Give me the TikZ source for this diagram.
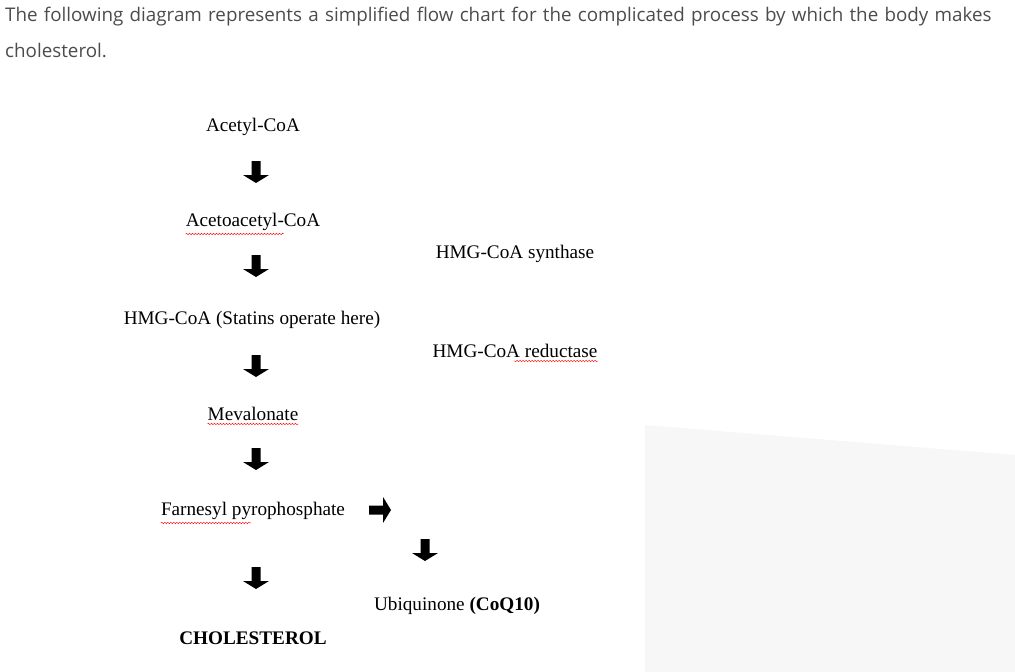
\documentclass[tikz,border=0pt]{standalone}
\usepackage{fontspec}
\setmainfont{Liberation Serif}
\newfontfamily\websans{Open Sans}
\usetikzlibrary{decorations.pathmorphing}
\begin{document}
\begin{tikzpicture}[x=1pt,y=-1pt]
\tikzset{
    stage/.style={font=\fontsize{19.2}{22}\selectfont, inner sep=0pt, anchor=center},
    blk/.pic={\fill[black] (-4.5,-11) -- (4.5,-11) -- (4.5,3) -- (13,3) -- (0,11)
        -- (-13,3) -- (-4.5,3) -- cycle;},
    spell/.style={red, thin, decorate, decoration={snake, amplitude=0.8pt, segment length=3pt}}
}
  \useasboundingbox (0,0) rectangle (1015,672);
  \fill[black!3] (645,425) -- (1015,455) -- (1015,672) -- (645,672) -- cycle;
  \node[anchor=north west, text=black!70, font=\websans\fontsize{18.8}{36}\selectfont,
    text width=1008pt, inner sep=0pt, align=left] (intro) at (5,7)
    {The following diagram represents a simplified flow chart for the complicated process by which the body makes cholesterol.};

  \node[stage] (acetyl) at (253,127) {Acetyl-CoA};
  \pic at (256,172) {blk};
  \node[stage] (aceto) at (253,222) {Acetoacetyl-CoA};
  \node[stage] (synth) at (515,254) {HMG-CoA synthase};
  \pic at (256,266) {blk};
  \node[stage] (hmg) at (252,320) {HMG-CoA (Statins operate here)};
  \node[stage] (reduct) at (515,351) {HMG-CoA reductase};
  \pic at (256,366) {blk};
  \node[stage] (meva) at (253,414) {Mevalonate};
  \pic at (256,459) {blk};
  \node[stage] (farn) at (253,511) {Farnesyl pyrophosphate};
  \pic[rotate=90] at (380,510) {blk};
  \pic at (425,550) {blk};
  \pic at (256,578) {blk};
  \node[stage] (ubi) at (457,606) {Ubiquinone \textbf{(CoQ10)}};
  \node[stage] (chol) at (253,638) {\textbf{CHOLESTEROL}};

  % spell-check marks
  \draw[spell] ([yshift=-3pt]aceto.south west) -- ++(98,0);
  \draw[spell] ([yshift=-3pt]reduct.south east) -- ++(-84,0);
  \draw[spell] ([yshift=-3pt]meva.south west) -- ([yshift=-3pt]meva.south east);
  \draw[spell] ([yshift=-3pt]farn.south west) -- ++(90,0);
\end{tikzpicture}
\end{document}
